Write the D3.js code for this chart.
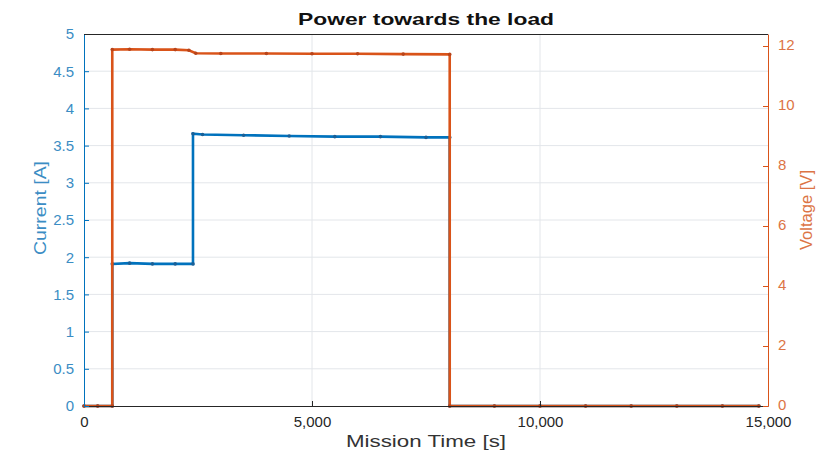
<!DOCTYPE html>
<html><head><meta charset="utf-8">
<script src="https://cdn.jsdelivr.net/npm/d3@7"></script>
<style>
html,body{margin:0;padding:0;background:#fff;}
text{font-family:"Liberation Sans",Arial,sans-serif;}
</style></head>
<body>
<svg id="chart" width="832" height="455"></svg>
<script>
const titleText = "Power towards the load";
const xLabel = "Mission Time [s]";
const yLeftLabel = "Current [A]";
const yRightLabel = "Voltage [V]";

const xTicks = [0, 5000, 10000, 15000];
const yLeftTicks = [0, 0.5, 1, 1.5, 2, 2.5, 3, 3.5, 4, 4.5, 5];
const yRightTicks = [0, 2, 4, 6, 8, 10, 12];

const currentTime = [0, 300, 620, 620, 1000, 1500, 2000, 2390, 2390, 2600, 3500, 4500, 5500, 6500, 7500, 8020, 8020, 9000, 10000, 11000, 12000, 13000, 14000, 14800];
const currentVal  = [0, 0, 0, 1.91, 1.92, 1.91, 1.91, 1.91, 3.66, 3.65, 3.64, 3.63, 3.62, 3.62, 3.61, 3.61, 0, 0, 0, 0, 0, 0, 0, 0];

const voltageTime = [0, 300, 620, 620, 1000, 1500, 2000, 2300, 2450, 3000, 4000, 5000, 6000, 7000, 8020, 8020, 9000, 10000, 11000, 12000, 13000, 14000, 14800];
const voltageVal  = [0, 0, 0, 11.88, 11.89, 11.88, 11.88, 11.86, 11.76, 11.75, 11.75, 11.74, 11.74, 11.73, 11.72, 0, 0, 0, 0, 0, 0, 0, 0];

const svg = d3.select("#chart");
const L = 84, R = 768, T = 34, B = 406;
const blue = "#0072BD", orange = "#D95319";
const blueTxt = "#3b8dc4", orangeTxt = "#dc7445";

const x = d3.scaleLinear().domain([0, 15000]).range([L, R]);
const yL = d3.scaleLinear().domain([0, 5]).range([B, T]);
const yR = d3.scaleLinear().domain([0, 12.4]).range([B, T]);

// grid
const g = svg.append("g");
g.selectAll("line.gx").data(xTicks.slice(1, -1)).join("line")
  .attr("x1", d => x(d)).attr("x2", d => x(d)).attr("y1", T).attr("y2", B)
  .attr("stroke", "#e3e6ea").attr("stroke-width", 1);
g.selectAll("line.gy").data(yLeftTicks.slice(1, -1)).join("line")
  .attr("x1", L).attr("x2", R).attr("y1", d => yL(d)).attr("y2", d => yL(d))
  .attr("stroke", "#e3e6ea").attr("stroke-width", 1);

// lines
const lineC = d3.line().x((d, i) => x(currentTime[i])).y(d => yL(d));
const lineV = d3.line().x((d, i) => x(voltageTime[i])).y(d => yR(d));

svg.append("path").datum(currentVal).attr("d", lineC)
  .attr("fill", "none").attr("stroke", blue).attr("stroke-width", 2.6);
svg.append("g").selectAll("circle").data(currentVal).join("circle")
  .attr("cx", (d, i) => x(currentTime[i])).attr("cy", d => yL(d)).attr("r", 1.8)
  .attr("fill", "#1a5f96");
svg.append("path").datum(voltageVal).attr("d", lineV)
  .attr("fill", "none").attr("stroke", orange).attr("stroke-width", 2.6);
svg.append("g").selectAll("circle").data(voltageVal).join("circle")
  .attr("cx", (d, i) => x(voltageTime[i])).attr("cy", d => yR(d)).attr("r", 1.8)
  .attr("fill", "#b8441a");

// axes
const xAxis = d3.axisBottom(x).tickValues(xTicks).tickSizeInner(-5).tickSizeOuter(0)
  .tickPadding(10).tickFormat(d3.format(","));
const gx = svg.append("g").attr("transform", `translate(0,${B})`).call(xAxis);
gx.select(".domain").attr("stroke", "#262626");
gx.selectAll(".tick line").attr("stroke", "#262626");
gx.selectAll(".tick text").attr("fill", "#262626").style("font-size", "15px");

const yAxisL = d3.axisLeft(yL).tickValues(yLeftTicks).tickSizeInner(-5).tickSizeOuter(0)
  .tickPadding(10).tickFormat(d => d3.format("")(d));
const gyl = svg.append("g").attr("transform", `translate(${L},0)`).call(yAxisL);
gyl.select(".domain").attr("stroke", blue);
gyl.selectAll(".tick line").attr("stroke", blue);
gyl.selectAll(".tick text").attr("fill", blueTxt).style("font-size", "15px");

const yAxisR = d3.axisRight(yR).tickValues(yRightTicks).tickSizeInner(-5).tickSizeOuter(0)
  .tickPadding(10);
const gyr = svg.append("g").attr("transform", `translate(${R},0)`).call(yAxisR);
gyr.select(".domain").attr("stroke", orange);
gyr.selectAll(".tick line").attr("stroke", orange);
gyr.selectAll(".tick text").attr("fill", orangeTxt).style("font-size", "15px").attr("dy", "0.22em");

// top border
svg.append("line").attr("x1", L).attr("x2", R).attr("y1", T + 0.5).attr("y2", T + 0.5)
  .attr("stroke", "#262626").attr("stroke-width", 1);

// title and labels
svg.append("text").attr("x", (L + R) / 2).attr("y", 25).attr("text-anchor", "middle")
  .style("font-size", "17px").style("font-weight", "bold").attr("fill", "#111")
  .attr("textLength", 256).attr("lengthAdjust", "spacingAndGlyphs").text(titleText);
svg.append("text").attr("x", (L + R) / 2).attr("y", 447).attr("text-anchor", "middle")
  .style("font-size", "16px").attr("fill", "#333")
  .attr("textLength", 160).attr("lengthAdjust", "spacingAndGlyphs").text(xLabel);
svg.append("text").attr("transform", `translate(46,208) rotate(-90)`)
  .attr("text-anchor", "middle").style("font-size", "17px").attr("fill", blueTxt)
  .attr("textLength", 94).attr("lengthAdjust", "spacingAndGlyphs").text(yLeftLabel);
svg.append("text").attr("transform", `translate(812,210) rotate(-90)`)
  .attr("text-anchor", "middle").style("font-size", "17px").attr("fill", orangeTxt)
  .attr("textLength", 80).attr("lengthAdjust", "spacingAndGlyphs").text(yRightLabel);
</script>
</body></html>
